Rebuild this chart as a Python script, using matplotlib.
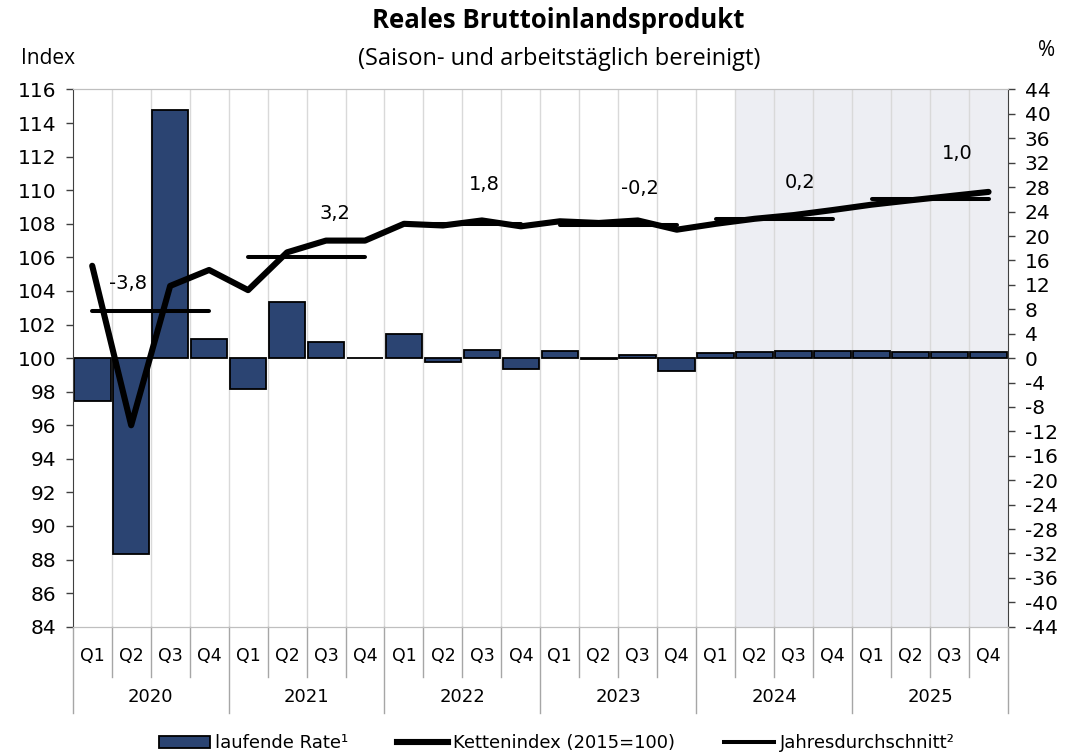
import numpy as np
import matplotlib
matplotlib.use('Agg')
import matplotlib.pyplot as plt
from matplotlib.patches import Patch
from matplotlib.lines import Line2D
import matplotlib.transforms as mtransforms

plt.rcParams['axes.unicode_minus'] = False

years = ['2020', '2021', '2022', '2023', '2024', '2025']
quarters = ['Q1', 'Q2', 'Q3', 'Q4'] * len(years)

# laufende Rate in % (rechte Achse)
rate = [-7.0, -32.1, 40.6, 3.1,
        -5.0, 9.2, 2.6, 0.0,
        4.0, -0.6, 1.4, -1.75,
        1.15, -0.2, 0.55, -2.1,
        0.8, 0.95, 1.1, 1.2,
        1.2, 1.0, 1.0, 1.0]

# Kettenindex (2015=100), linke Achse
chain_index = [105.5, 96.0, 104.3, 105.25,
               104.05, 106.3, 107.0, 107.0,
               108.0, 107.9, 108.2, 107.85,
               108.15, 108.05, 108.2, 107.65,
               108.0, 108.3, 108.52, 108.82,
               109.14, 109.4, 109.65, 109.9]

# Jahresdurchschnitt (Indexniveau) und Veraenderung gegen Vorjahr
annual_avg = [102.8, 106.0, 108.0, 107.9, 108.3, 109.45]
annual_growth = ['-3,8', '3,2', '1,8', '-0,2', '0,2', '1,0']
label_pos = [(0.93, 104.45), (6.23, 108.62), (10.05, 110.37),
             (14.06, 110.13), (18.16, 110.49), (22.19, 112.2)]

forecast_from = 17  # ab Q2 2024 grau hinterlegt

bar_color = '#2B4472'
shade_color = '#EDEEF3'
grid_color = '#D9D9D9'

fig = plt.figure(figsize=(10.71, 7.54), dpi=100)
ax = fig.add_axes([0.0679, 0.1688, 0.8733, 0.7125])
ax2 = ax.twinx()
ax.set_zorder(ax2.get_zorder() + 1)
ax.patch.set_visible(False)

x = np.arange(len(quarters))

# Hintergrund, Gitter, Balken auf der Prozent-Achse
ax2.axvspan(forecast_from - 0.5, len(x) - 0.5, color=shade_color, zorder=0, lw=0)
ax2.vlines(np.arange(0.5, len(x) - 0.5, 1), -44, 44, color=grid_color, lw=1, zorder=0.5)
ax2.bar(x, rate, width=0.94, color=bar_color, edgecolor='black', linewidth=1.3, zorder=2)

# Linien auf der Index-Achse
ax.plot(x, chain_index, color='black', lw=4.4, solid_capstyle='round',
        solid_joinstyle='round', zorder=3)
for k, (lvl, lab) in enumerate(zip(annual_avg, annual_growth)):
    ax.plot([4 * k, 4 * k + 3], [lvl, lvl], color='black', lw=2.9,
            solid_capstyle='round', zorder=3)
    ax.text(label_pos[k][0], label_pos[k][1], lab, ha='center', va='center',
            fontsize=14, zorder=4)

ax.set_xlim(-0.5, len(x) - 0.5)
ax.set_ylim(84, 116)
ax.set_yticks(np.arange(84, 117, 2))
ax2.set_ylim(-44, 44)
ax2.set_yticks(np.arange(-44, 45, 4))
ax.set_xticks([])

ax.tick_params(axis='y', direction='out', length=5, width=1, color='#404040',
               labelsize=14.5, pad=7)
ax2.tick_params(axis='y', direction='out', length=5, width=1, color='#404040',
                labelsize=14.5, pad=7)

for a in (ax, ax2):
    a.spines['top'].set_color('#BFBFBF')
    a.spines['bottom'].set_color('#BFBFBF')
ax.spines['left'].set_color('#404040')
ax.spines['right'].set_visible(False)
ax2.spines['left'].set_visible(False)
ax2.spines['right'].set_color('#404040')

# Kategorienbeschriftung (Quartale / Jahre) mit Trennstrichen
trans = mtransforms.blended_transform_factory(ax.transData, ax.transAxes)
for i, q in enumerate(quarters):
    ax.text(i, -0.054, q, transform=trans, ha='center', va='center', fontsize=12.5)
for k, yr in enumerate(years):
    ax.text(4 * k + 1.5, -0.131, yr, transform=trans, ha='center', va='center', fontsize=13)
for b in np.arange(-0.5, len(x), 1):
    bottom = -0.160 if (b + 0.5) % 4 == 0 else -0.093
    ax.plot([b, b], [0, bottom], transform=trans, color='#A6A6A6', lw=1, clip_on=False)

# Titel und Achsenbeschriftungen
fig.text(0.5215, 0.973, 'Reales Bruttoinlandsprodukt', ha='center', va='center',
         fontsize=18.5, fontweight='bold', family='Open Sans')
fig.text(0.522, 0.922, '(Saison- und arbeitstäglich bereinigt)', ha='center', va='center',
         fontsize=17, family='Open Sans')
fig.text(0.045, 0.923, 'Index', ha='center', va='center', fontsize=15, family='Open Sans')
fig.text(0.977, 0.933, '%', ha='center', va='center', fontsize=15, family='Open Sans')

handles = [Patch(facecolor=bar_color, edgecolor='black', linewidth=1.3),
           Line2D([], [], color='black', lw=4.4),
           Line2D([], [], color='black', lw=2.9)]
labels = ['laufende Rate¹', 'Kettenindex (2015=100)', 'Jahresdurchschnitt²']
fig.legend(handles, labels, loc='center', bbox_to_anchor=(0.52, 0.014),
           bbox_transform=fig.transFigure, ncol=3, frameon=False, fontsize=13,
           handlelength=2.8, handletextpad=0.3, columnspacing=2.7)

fig.savefig('out.png', dpi=100)
